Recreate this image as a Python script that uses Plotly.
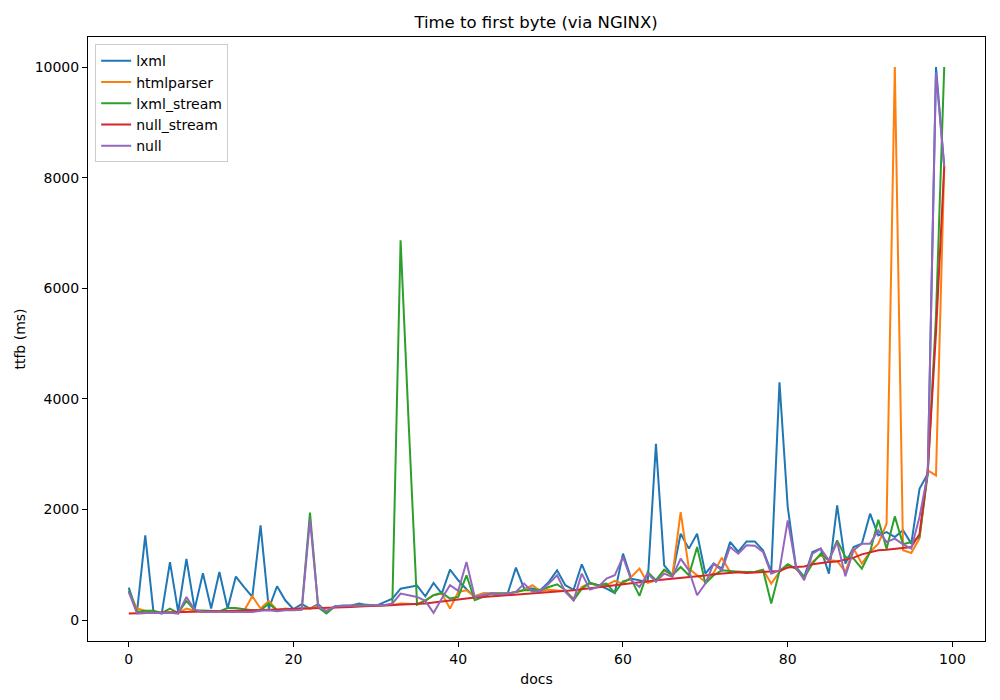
import plotly.graph_objects as go

# ttfb per doc (ms)
docs = list(range(100))

lxml = [590, 150, 1534, 150, 120, 1050, 150, 1110, 200, 850,
        210, 870, 210, 790, 600, 420, 1715, 210, 614, 360,
        200, 290, 210, 290, 150, 250, 265, 265, 300, 265,
        260, 330, 390, 570, 600, 625, 433, 674, 481, 914,
        722, 560, 420, 481, 481, 481, 481, 950, 571, 572,
        547, 692, 902, 632, 550, 1011, 662, 632, 572, 493,
        1203, 752, 722, 692, 3189, 993, 812, 1564, 1294, 1564,
        842, 1023, 932, 1414, 1240, 1425, 1425, 1264, 872, 4302,
        2046, 962, 782, 1234, 1294, 842, 2076, 1023, 1324, 1384,
        1925, 1534, 1594, 1504, 1625, 1384, 2377, 2650, 10000, 8200]

htmlparser = [510, 210, 170, 150, 130, 150, 130, 210, 170, 150,
              150, 150, 150, 160, 170, 433, 210, 349, 180, 210,
              200, 220, 210, 260, 150, 250, 250, 265, 270, 265,
              265, 270, 270, 300, 290, 289, 361, 451, 481, 210,
              511, 540, 433, 481, 481, 481, 481, 511, 553, 632,
              523, 552, 542, 523, 391, 601, 674, 632, 632, 710,
              662, 782, 932, 674, 722, 902, 812, 1955, 932, 812,
              692, 854, 1131, 872, 880, 872, 872, 915, 662, 872,
              993, 932, 752, 1053, 1173, 1083, 1073, 872, 1294, 1023,
              1234, 1384, 1745, 10000, 1264, 1215, 1480, 2708, 2617, 8200]

lxml_stream = [540, 150, 170, 170, 130, 210, 130, 350, 180, 170,
               170, 160, 220, 220, 200, 180, 180, 300, 180, 180,
               190, 210, 1944, 230, 120, 250, 250, 260, 280, 280,
               265, 270, 290, 6870, 3500, 280, 349, 451, 493, 391,
               420, 812, 361, 421, 481, 481, 481, 511, 541, 541,
               542, 601, 650, 542, 361, 572, 674, 632, 660, 493,
               700, 742, 440, 872, 722, 914, 812, 962, 812, 1324,
               662, 812, 902, 890, 872, 872, 872, 908, 301, 890,
               1011, 932, 782, 1023, 1203, 1083, 1444, 1143, 1113, 932,
               1234, 1817, 1294, 1877, 1372, 1414, 1504, 2650, 5500, 10000]

null_stream = [120, 125, 130, 135, 140, 140, 145, 150, 150, 155,
               160, 160, 165, 170, 170, 175, 180, 180, 185, 190,
               195, 200, 205, 215, 222, 230, 235, 240, 250, 255,
               260, 265, 275, 280, 285, 290, 300, 320, 340, 360,
               380, 395, 410, 420, 430, 440, 450, 465, 480, 490,
               500, 510, 520, 530, 540, 560, 575, 590, 610, 630,
               650, 670, 690, 710, 720, 735, 750, 760, 770, 790,
               810, 830, 845, 860, 865, 854, 860, 870, 872, 890,
               951, 962, 970, 1011, 1035, 1053, 1060, 1095, 1131, 1191,
               1234, 1264, 1274, 1294, 1306, 1324, 1560, 2700, 5200, 8200]

null = [511, 120, 130, 135, 130, 135, 120, 421, 190, 150,
        150, 150, 150, 150, 150, 150, 170, 180, 160, 180,
        180, 190, 1817, 240, 170, 250, 255, 260, 270, 270,
        270, 270, 301, 481, 451, 421, 349, 132, 391, 632,
        530, 1053, 421, 450, 481, 470, 481, 511, 662, 511,
        529, 662, 812, 511, 361, 842, 553, 601, 752, 812,
        1143, 722, 601, 842, 692, 842, 782, 1113, 902, 451,
        662, 1023, 902, 1324, 1203, 1354, 1345, 1234, 842, 902,
        1805, 962, 722, 1203, 1294, 1083, 1414, 794, 1264, 1384,
        1384, 1625, 1414, 1474, 1372, 1294, 1865, 2650, 9900, 8200]

names = ['lxml', 'htmlparser', 'lxml_stream', 'null_stream', 'null']
series = [lxml, htmlparser, lxml_stream, null_stream, null]
colors = ['#1f77b4', '#ff7f0e', '#2ca02c', '#d62728', '#9467bd']

x_ticks = [0, 20, 40, 60, 80, 100]
y_ticks = [0, 2000, 4000, 6000, 8000, 10000]

fig = go.Figure()
for name, ys, c in zip(names, series, colors):
    fig.add_trace(go.Scatter(
        x=docs, y=ys, mode='lines', name=name,
        line=dict(color=c, width=2)
    ))

axis_common = dict(
    showline=True, linecolor='black', linewidth=1, mirror=True,
    ticks='outside', ticklen=5, tickcolor='black',
    showgrid=False, zeroline=False, automargin=False,
    tickfont=dict(size=14, color='black'),
)

# the page body adds an 8px offset, so margins are shifted to compensate
fig.update_layout(
    width=1000, height=700,
    margin=dict(l=80, r=23, t=29, b=67),
    paper_bgcolor='white', plot_bgcolor='white',
    font=dict(family='DejaVu Sans', color='black'),
    title=dict(text='Time to first byte (via NGINX)', x=0.528, xanchor='center',
               y=0.98, yanchor='middle', font=dict(size=16.5), automargin=False),
    xaxis=dict(range=[-4.95, 103.95], tickvals=x_ticks,
               ticktext=[str(v) for v in x_ticks],
               title=dict(text='docs', font=dict(size=14), standoff=8),
               **axis_common),
    yaxis=dict(range=[-376, 10544], tickvals=y_ticks,
               ticktext=[str(v) for v in y_ticks],
               title=dict(text='ttfb (ms)', font=dict(size=14), standoff=5),
               **axis_common),
    legend=dict(x=0.008, y=0.988, xanchor='left', yanchor='top',
                bgcolor='rgba(255,255,255,0.8)', bordercolor='#cccccc',
                borderwidth=1, font=dict(size=14)),
    showlegend=True,
)

fig.write_html('out.html')
